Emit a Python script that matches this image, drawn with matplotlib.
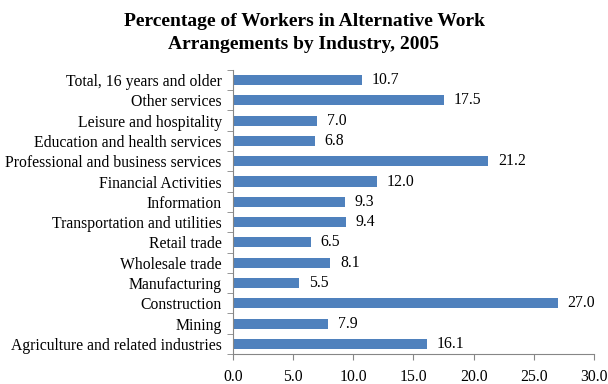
import matplotlib.pyplot as plt
import numpy as np

industries = ["Agriculture and related industries", "Mining", "Construction",
              "Manufacturing", "Wholesale trade", "Retail trade",
              "Transportation and utilities", "Information", "Financial Activities",
              "Professional and business services", "Education and health services",
              "Leisure and hospitality", "Other services", "Total, 16 years and older"]
percent = [16.1, 7.9, 27.0, 5.5, 8.1, 6.5, 9.4, 9.3, 12.0, 21.2, 6.8, 7.0, 17.5, 10.7]
xticks = [0, 5, 10, 15, 20, 25, 30]

plt.rcParams['font.family'] = ['Liberation Serif', 'DejaVu Serif']

fig = plt.figure(figsize=(6.08, 3.84), dpi=100)
ax = fig.add_axes([0.383, 0.078, 0.594, 0.74])

y = np.arange(len(industries))
ax.barh(y, percent, height=0.5, color="#4F81BD")
for yi, v in zip(y, percent):
    ax.annotate(f"{v:.1f}", (v, yi), xytext=(7, 0), textcoords="offset points",
                va="center", ha="left", fontsize=11.3)

ax.set_xlim(0, 30)
ax.set_ylim(-0.5, len(industries) - 0.5)
ax.set_xticks(xticks)
ax.set_xticklabels([f"{t:.1f}" for t in xticks], fontsize=11.3)
ax.set_yticks(y)
ax.set_yticklabels(industries, fontsize=11.3)
ax.tick_params(axis="y", which="major", length=0, pad=8)
ax.set_yticks(np.arange(-0.5, len(industries), 1), minor=True)
ax.tick_params(axis="y", which="minor", length=4, color="#868686", direction="out")
ax.tick_params(axis="x", length=4, color="#868686", pad=7)

for s in ["top", "right"]:
    ax.spines[s].set_visible(False)
for s in ["left", "bottom"]:
    ax.spines[s].set_color("#868686")

fig.suptitle("Percentage of Workers in Alternative Work\nArrangements by Industry, 2005",
             fontsize=14, fontweight="bold", x=0.5, y=0.966, va="top", linespacing=1.45)

plt.savefig("out.png", dpi=100)
